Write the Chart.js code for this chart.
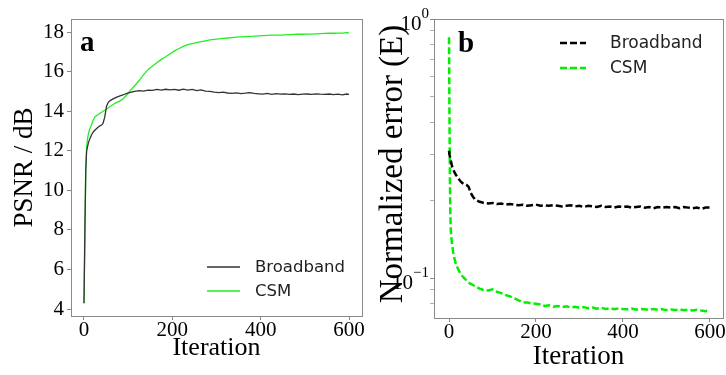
<!DOCTYPE html>
<html><head><meta charset="utf-8">
<script src="https://cdn.jsdelivr.net/npm/chart.js@4"></script>
<style>
html,body{margin:0;padding:0;background:#fff;}
#wrap{position:relative;width:726px;height:375px;overflow:hidden;background:#fff;}
#pa{position:absolute;left:0;top:0;}
#pb{position:absolute;left:363px;top:0;}
</style></head><body>
<div id="wrap">
<canvas id="pa" width="380" height="375"></canvas>
<canvas id="pb" width="363" height="375"></canvas>
</div>
<script>
// ---------- data ----------
const seriesNames = ['Broadband', 'CSM'];
const panelLabels = ['a', 'b'];
const xTitle = 'Iteration';
const yTitleA = 'PSNR / dB';
const yTitleB = 'Normalized error (E)';
const xTicks = [0, 200, 400, 600];
const yTicksA = [4, 6, 8, 10, 12, 14, 16, 18];
const yMajorB = [0.1, 1];
const yMinorB = [0.08, 0.09, 0.2, 0.3, 0.4, 0.5, 0.6, 0.7, 0.8, 0.9];
const yMajorLabelsB = [['10', '\u22121'], ['10', '0']];

const iterA = [0,2,4,6,8,10,13,17,21,25,30,35,40,43,47,51,55,60,66,73,80,88,97,105,115,125,135,145,155,165,175,185,195,205,215,225,235,245,255,265,275,285,295,305,315,325,335,345,355,365,375,385,395,405,415,425,435,445,455,465,475,485,495,505,515,525,535,545,555,565,575,585,595,600];
const psnrBroadband = [4.3,8.0,11.0,12.0,12.2,12.4,12.6,12.8,12.95,13.05,13.15,13.25,13.3,13.38,13.7,14.25,14.45,14.55,14.62,14.7,14.76,14.82,14.9,14.95,15.0,15.04,15.02,15.06,15.05,15.1,15.07,15.11,15.08,15.1,15.06,15.12,15.07,15.1,15.04,15.08,15.02,15.0,14.96,14.94,14.96,14.92,14.9,14.93,14.89,14.91,14.94,14.9,14.88,14.86,14.9,14.85,14.89,14.86,14.88,14.85,14.87,14.84,14.86,14.87,14.85,14.88,14.86,14.85,14.87,14.84,14.86,14.83,14.87,14.85];
const psnrCSM = [4.3,7.5,11.0,12.2,12.6,12.85,13.1,13.3,13.55,13.72,13.8,13.88,13.95,14.0,14.05,14.1,14.17,14.25,14.34,14.43,14.5,14.62,14.82,15.05,15.3,15.55,15.85,16.1,16.28,16.45,16.62,16.75,16.9,17.05,17.17,17.28,17.36,17.42,17.47,17.52,17.56,17.6,17.63,17.66,17.68,17.7,17.72,17.74,17.76,17.77,17.78,17.79,17.81,17.82,17.83,17.84,17.85,17.85,17.86,17.87,17.88,17.89,17.89,17.9,17.9,17.91,17.92,17.93,17.94,17.94,17.95,17.95,17.97,17.96];

const iterB = [0,1,2,3,4,5,7,10,13,16,20,25,30,35,40,45,50,55,60,65,70,75,80,90,100,110,120,130,140,150,160,170,180,190,200,210,220,230,240,250,260,270,280,290,300,310,320,330,340,350,360,370,380,390,400,410,420,430,440,450,460,470,480,490,500,510,520,530,540,550,560,570,580,590,600];
const errBroadband = [0.31,0.3,0.295,0.29,0.285,0.28,0.27,0.262,0.255,0.25,0.245,0.238,0.233,0.23,0.229,0.225,0.213,0.206,0.201,0.199,0.197,0.196,0.195,0.194,0.195,0.193,0.194,0.192,0.193,0.192,0.191,0.192,0.19,0.191,0.192,0.19,0.191,0.19,0.191,0.19,0.189,0.19,0.191,0.189,0.19,0.188,0.19,0.189,0.188,0.19,0.188,0.189,0.187,0.189,0.188,0.189,0.187,0.188,0.189,0.187,0.188,0.186,0.188,0.187,0.188,0.187,0.188,0.186,0.188,0.187,0.186,0.187,0.185,0.187,0.187];
const errCSM = [0.85,0.45,0.25,0.18,0.155,0.145,0.135,0.125,0.118,0.113,0.109,0.105,0.102,0.1,0.098,0.096,0.095,0.094,0.093,0.092,0.091,0.0905,0.0895,0.0895,0.0905,0.0885,0.0875,0.086,0.085,0.0835,0.082,0.0805,0.0805,0.0798,0.0795,0.079,0.078,0.0785,0.0775,0.078,0.0772,0.0778,0.077,0.0775,0.0768,0.0772,0.0765,0.077,0.0762,0.0768,0.076,0.0765,0.0758,0.0764,0.076,0.0757,0.0763,0.0755,0.076,0.0757,0.0753,0.076,0.0755,0.0758,0.0752,0.0756,0.0752,0.0757,0.0751,0.0755,0.075,0.0754,0.0749,0.0745,0.0752];

// ---------- helpers ----------
const SERIF = "'Liberation Serif', 'Times New Roman', serif";
const SANS = "'DejaVu Sans', sans-serif";
const FRAME = '#8a8a8a';
const pts = (xs, ys) => xs.map((x, i) => ({x: x, y: ys[i]}));

function decoPlugin(cfg) {
  return {
    id: 'deco' + cfg.letter,
    afterDraw(chart) {
      const ctx = chart.ctx, a = chart.chartArea;
      ctx.save();
      // frame
      ctx.strokeStyle = FRAME; ctx.lineWidth = 1;
      ctx.strokeRect(Math.round(a.left) + 0.5, Math.round(a.top) + 0.5,
                     Math.round(a.right - a.left), Math.round(a.bottom - a.top));
      // panel letter
      ctx.fillStyle = '#000';
      ctx.font = 'bold 29px ' + SERIF;
      ctx.textAlign = 'left'; ctx.textBaseline = 'alphabetic';
      ctx.fillText(cfg.letter, cfg.letterX, cfg.letterY);
      // legend
      chart.data.datasets.forEach((ds, i) => {
        const y = cfg.legY[i];
        ctx.beginPath();
        ctx.setLineDash(ds.borderDash || []);
        ctx.strokeStyle = ds.borderColor; ctx.lineWidth = ds.borderWidth;
        ctx.moveTo(cfg.legX1, y); ctx.lineTo(cfg.legX2, y); ctx.stroke();
        ctx.setLineDash([]);
        ctx.fillStyle = '#222';
        ctx.font = cfg.legFont + 'px ' + SANS;
        ctx.textAlign = 'left'; ctx.textBaseline = 'middle';
        ctx.fillText(ds.label, cfg.legTX, y + 1);
      });
      // custom y title
      if (cfg.yTitle) {
        ctx.save();
        ctx.translate(cfg.yTitleX, cfg.yTitleY);
        ctx.rotate(-Math.PI / 2);
        ctx.fillStyle = '#000';
        ctx.font = cfg.yTitleSize + 'px ' + SERIF;
        ctx.textAlign = 'center'; ctx.textBaseline = 'middle';
        ctx.fillText(cfg.yTitle, 0, 0);
        ctx.restore();
      }
      // custom log labels
      if (cfg.logLabels) {
        const ys = chart.scales.y;
        yMajorB.forEach((v, i) => {
          const py = ys.getPixelForValue(v);
          const [base, ex] = yMajorLabelsB[i];
          ctx.fillStyle = '#000';
          ctx.textAlign = 'right'; ctx.textBaseline = 'middle';
          ctx.font = '15px ' + SERIF;
          const ew = ctx.measureText(ex).width;
          const right = 66;
          ctx.fillText(ex, right, py - 5);
          ctx.font = '21px ' + SERIF;
          ctx.fillText(base, right - ew, py + 5);
        });
      }
      ctx.restore();
    }
  };
}

const tickGrid = {drawOnChartArea: false, drawTicks: true, tickLength: 4, tickColor: FRAME, tickWidth: 1};
const tickFont = {family: SERIF, size: 21, lineHeight: 1};

// ---------- panel a ----------
new Chart(document.getElementById('pa'), {
  type: 'line',
  data: {
    datasets: [
      {label: seriesNames[0], data: pts(iterA, psnrBroadband), borderColor: '#333333', borderWidth: 1.3, pointRadius: 0, tension: 0},
      {label: seriesNames[1], data: pts(iterA, psnrCSM), borderColor: '#22ee22', borderWidth: 1.3, pointRadius: 0, tension: 0}
    ]
  },
  options: {
    responsive: false, animation: false, devicePixelRatio: 1,
    layout: {padding: {top: 19, right: 18, left: 0, bottom: 0}},
    plugins: {legend: {display: false}, tooltip: {enabled: false}},
    scales: {
      x: {
        type: 'linear', min: -29.4, max: 629.4,
        afterBuildTicks: s => { s.ticks = xTicks.map(v => ({value: v})); },
        afterFit: s => { s.height = 59; s.paddingLeft = 0; s.paddingRight = 0; },
        grid: tickGrid, border: {display: false},
        ticks: {font: tickFont, color: '#000', padding: 0, maxRotation: 0, autoSkip: false},
        title: {display: true, text: xTitle, font: {family: SERIF, size: 26, lineHeight: 1.2}, color: '#000', padding: {top: 0, bottom: 11}}
      },
      y: {
        type: 'linear', min: 3.65, max: 18.66,
        afterBuildTicks: s => { s.ticks = yTicksA.map(v => ({value: v})); },
        afterFit: s => { s.width = 71; s.paddingTop = 0; s.paddingBottom = 0; },
        grid: tickGrid, border: {display: false},
        ticks: {font: tickFont, color: '#000', padding: 3, autoSkip: false},
        title: {display: true, text: yTitleA, font: {family: SERIF, size: 27, lineHeight: 1.2}, color: '#000', padding: {top: 9, bottom: 0}}
      }
    }
  },
  plugins: [decoPlugin({letter: panelLabels[0], letterX: 80, letterY: 51, legY: [267, 291], legX1: 207, legX2: 240, legTX: 255, legFont: 16.5})]
});

// ---------- panel b ----------
new Chart(document.getElementById('pb'), {
  type: 'line',
  data: {
    datasets: [
      {label: seriesNames[0], data: pts(iterB, errBroadband), borderColor: '#000000', borderWidth: 2.5, borderDash: [7, 3], pointRadius: 0, tension: 0},
      {label: seriesNames[1], data: pts(iterB, errCSM), borderColor: '#00f000', borderWidth: 2.5, borderDash: [7, 3], pointRadius: 0, tension: 0}
    ]
  },
  options: {
    responsive: false, animation: false, devicePixelRatio: 1,
    layout: {padding: {top: 19, right: 3, left: 0, bottom: 0}},
    plugins: {legend: {display: false}, tooltip: {enabled: false}},
    scales: {
      x: {
        type: 'linear', min: -34.5, max: 630,
        afterBuildTicks: s => { s.ticks = xTicks.map(v => ({value: v})); },
        afterFit: s => { s.height = 57; s.paddingLeft = 0; s.paddingRight = 0; },
        grid: tickGrid, border: {display: false},
        ticks: {font: tickFont, color: '#000', padding: 0, maxRotation: 0, autoSkip: false},
        title: {display: true, text: xTitle, font: {family: SERIF, size: 27, lineHeight: 1.2}, color: '#000', padding: {top: 0, bottom: 2}}
      },
      y: {
        type: 'logarithmic', min: 0.0701, max: 1,
        afterBuildTicks: s => { s.ticks = yMinorB.concat(yMajorB).sort((p, q) => p - q).map(v => ({value: v, major: yMajorB.includes(v)})); },
        afterFit: s => { s.width = 71; s.paddingTop = 0; s.paddingBottom = 0; },
        grid: {drawOnChartArea: false, drawTicks: true, tickLength: 4,
               tickColor: c => (c.tick && yMajorB.includes(c.tick.value)) ? FRAME : '#b0b0b0',
               tickWidth: 1},
        border: {display: false},
        ticks: {font: tickFont, color: '#000', padding: 3, autoSkip: false, callback: () => ''},
        title: {display: false}
      }
    }
  },
  plugins: [decoPlugin({letter: panelLabels[1], letterX: 95, letterY: 52, legY: [43, 68], legX1: 197, legX2: 223, legTX: 247, legFont: 17, logLabels: true,
                        yTitle: yTitleB, yTitleX: 30, yTitleY: 164, yTitleSize: 33})]
});
</script>
</body></html>
